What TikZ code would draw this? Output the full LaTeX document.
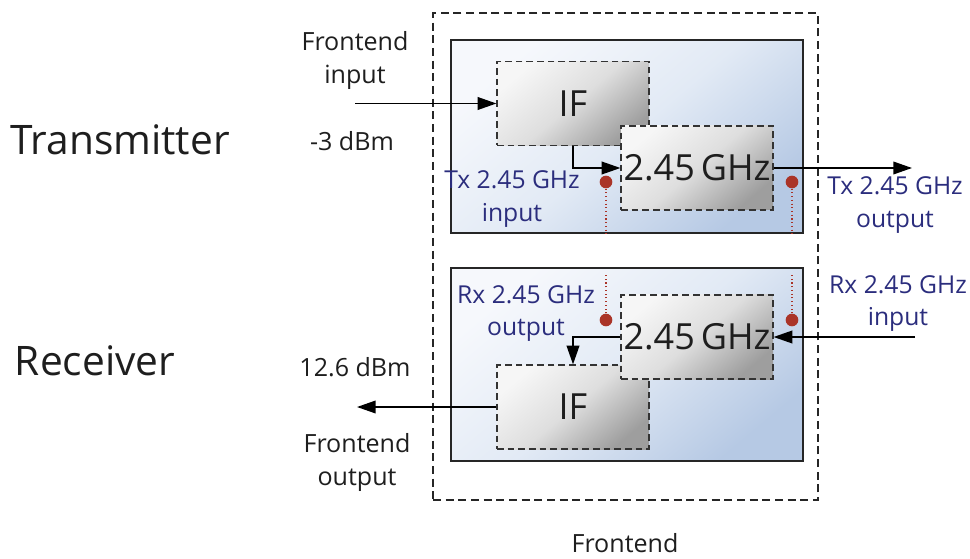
\documentclass[tikz,border=0pt]{standalone}
\usepackage{fontspec}
\setmainfont{Open Sans}
\usetikzlibrary{arrows.meta,calc}
\definecolor{navy}{RGB}{43,45,125}
\definecolor{dotred}{RGB}{170,52,40}
\definecolor{txt}{RGB}{30,30,30}
\definecolor{panelA}{RGB}{246,248,252}
\definecolor{panelM}{RGB}{226,234,245}
\definecolor{panelB}{RGB}{182,201,228}
\definecolor{boxA}{RGB}{246,246,246}
\definecolor{boxM}{RGB}{222,222,222}
\definecolor{boxB}{RGB}{158,158,158}
\tikzset{
  lbl/.style={font=\fontsize{18.8}{24.5}\selectfont, text=txt, align=center, inner sep=0pt},
  blbl/.style={font=\fontsize{18.5}{24.5}\selectfont, text=navy, align=center, inner sep=0pt},
  big/.style={font=\fontsize{30.5}{34}\selectfont, text=txt, inner sep=0pt},
  panel/.style={draw=black!85, line width=1pt, minimum width=264pt, minimum height=144.75pt,
     inner sep=0pt, top color=panelA, bottom color=panelB, middle color=panelM, shading angle=40},
  blk/.style={draw=black!80, dashed, dash pattern=on 5pt off 3pt, line width=0.9pt,
     minimum width=114pt, minimum height=63pt, inner sep=0pt,
     top color=boxA, bottom color=boxB, middle color=boxM, shading angle=40,
     font=\fontsize{27}{30}\selectfont, text=txt},
  frame/.style={draw=black!85, dash pattern=on 6pt off 3.5pt, line width=0.9pt,
     minimum width=288.75pt, minimum height=365.25pt, inner sep=0pt},
  arr/.style={draw=black, line width=1.1pt, -{Triangle[length=14pt,width=9.5pt]}},
  rdot/.style={circle, fill=dotred, minimum size=9.5pt, inner sep=0pt},
  rline/.style={draw=dotred, dotted, line width=0.8pt},
}
\begin{document}
\begin{tikzpicture}[x=0.75pt,y=-0.75pt]
\useasboundingbox (0,0) rectangle (970,559);
% outer frame
\node[frame] (front) at (625.5,256.5) {};
\node[lbl] (frontlbl) at (625,543.5) {Frontend};
% panels
\node[panel] (txpanel) at (627,136.5) {};
\node[panel] (rxpanel) at (627,364.5) {};
% red dotted lines and dots
\node[rdot] (d1) at (606,182) {};
\node[rdot] (d2) at (792,182) {};
\node[rdot] (d3) at (606,320) {};
\node[rdot] (d4) at (792,320) {};
\draw[rline] (d1) -- (d1 |- txpanel.south);
\draw[rline] (d2) -- (d2 |- txpanel.south);
\coordinate (t3) at (606,275);
\coordinate (t4) at (792,275);
\draw[rline] (d3) -- (t3);
\draw[rline] (d4) -- (t4);
% blocks
\node[blk] (txif) at (573,103.5) {IF};
\node[blk] (txghz) at (697,168) {2.45\,GHz};
\node[blk] (rxif) at (573,407) {IF};
\node[blk] (rxghz) at (697,337) {2.45\,GHz};
% connectors
\coordinate (fin) at (355,103.5);
\coordinate (txout) at (912,168);
\coordinate (rxin) at (915,337);
\coordinate (fout) at (357,407);
\draw[arr] (fin) -- (txif.west);
\draw[arr] (txif.south) |- (txghz.west);
\draw[arr] (txghz.east) -- (txout);
\draw[arr] (rxin) -- (rxghz.east);
\draw[arr] (rxghz.west) -| (rxif.north);
\draw[arr] (rxif.west) -- (fout);
% labels
\node[big] (tx) at (120,140) {Transmitter};
\node[big] (rx) at (95,361) {Receiver};
\node[lbl] (finl) at (355,60.5) {Frontend\\input};
\node[lbl] (dbm1) at (352,141) {-3 dBm};
\node[lbl] (dbm2) at (355,367) {12.6 dBm};
\node[lbl] (foutl) at (357,462.5) {Frontend\\output};
\node[blbl] (txinl) at (512,199) {Tx 2.45 GHz\\input};
\node[blbl] (txoutl) at (895,205) {Tx 2.45 GHz\\output};
\node[blbl] (rxinl) at (898,303.5) {Rx 2.45 GHz\\input};
\node[blbl] (rxoutl) at (526,313.5) {Rx 2.45 GHz\\output};
\end{tikzpicture}
\end{document}
